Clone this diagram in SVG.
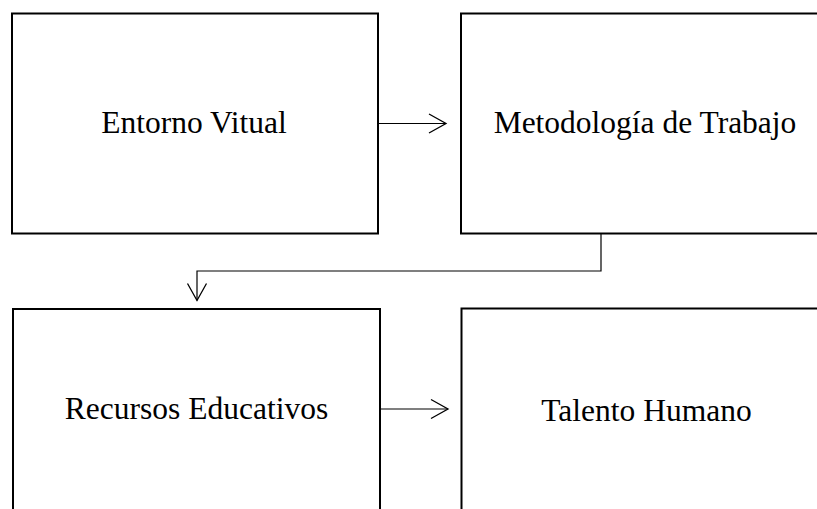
<svg xmlns="http://www.w3.org/2000/svg" width="817" height="509" viewBox="0 0 817 509">
<style>
.box{fill:#fff;stroke:#000;stroke-width:2}
.lbl{font-family:"Liberation Serif","Times New Roman",serif;font-size:31.5px;fill:#000;text-anchor:middle}
.conn{fill:none;stroke:#000;stroke-width:1.2}
</style>
<defs>
<marker id="arr" markerUnits="userSpaceOnUse" markerWidth="22" markerHeight="22" refX="17" refY="9.5" orient="auto" overflow="visible">
<path d="M0,0 L17,9.5 L0,19" fill="none" stroke="#000" stroke-width="1.3"/>
</marker>
</defs>
<rect width="817" height="509" fill="#fff"/>
<g id="n1">
<rect class="box" x="12" y="13.5" width="366" height="220"/>
<text class="lbl" x="194" y="133">Entorno Vitual</text>
</g>
<g id="n2">
<rect class="box" x="461" y="13.5" width="370" height="220"/>
<text class="lbl" x="645" y="133">Metodología de Trabajo</text>
</g>
<g id="n3">
<rect class="box" x="13" y="309" width="367" height="220"/>
<text class="lbl" x="196.5" y="418.5">Recursos Educativos</text>
</g>
<g id="n4">
<rect class="box" x="461.5" y="308.5" width="370" height="220"/>
<text class="lbl" x="646.5" y="421">Talento Humano</text>
</g>
<g id="connectors">
<path class="conn" d="M378,123.5 H446" marker-end="url(#arr)"/>
<path class="conn" d="M380,409 H448" marker-end="url(#arr)"/>
<path class="conn" d="M601,234 V271 H197 V300.5" marker-end="url(#arr)"/>
</g>
</svg>
